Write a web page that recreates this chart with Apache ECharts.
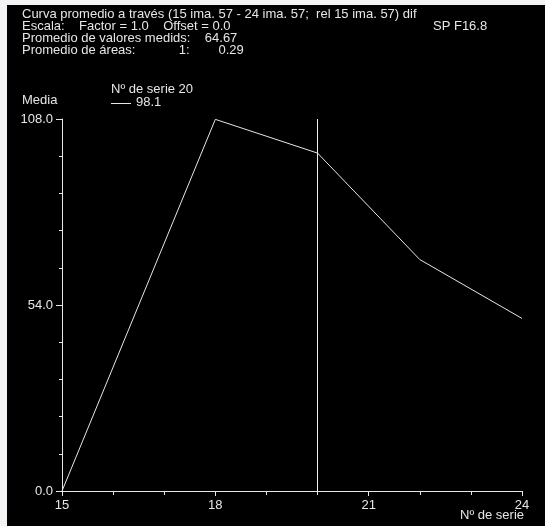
<!DOCTYPE html>
<html>
<head>
<meta charset="utf-8">
<script src="https://cdn.jsdelivr.net/npm/echarts@6/dist/echarts.min.js"></script>
<style>
  html, body { margin: 0; padding: 0; background: #f3f3f5; }
  #main { position: absolute; left: 7px; top: 5px; width: 538px; height: 521px; background: #000; }
</style>
</head>
<body>
<div id="main"></div>
<script>
// datos de la curva promedio
var serieNums = [15, 18, 20, 22, 24];
var mediaVals = [0, 107.9, 98.1, 67.2, 50.1];
var cursorSerie = 20;
var cursorValue = 98.1;
var headerLines = [
  'Curva promedio a través (15 ima. 57 - 24 ima. 57;  rel 15 ima. 57) dif',
  'Escala:    Factor = 1.0    Offset = 0.0',
  'Promedio de valores medids:    64.67',
  'Promedio de áreas:            1:        0.29'
];
var headerRight = 'SP F16.8';
var yTicks = [0, 54, 108];
var xTicks = [15, 18, 21, 24];

var txtColor = '#e6e6e6';
var fontFam = '"Liberation Sans", Arial, sans-serif';
var fnt = '13px ' + fontFam;
var chart = echarts.init(document.getElementById('main'));

var points = serieNums.map(function (s, i) { return [s, mediaVals[i]]; });

var graphics = headerLines.map(function (t, i) {
  return {
    type: 'text', left: 15, top: 2.5 + i * 12.3,
    style: { text: t, fill: txtColor, font: fnt }
  };
});
graphics.push({ type: 'text', left: 426, top: 14.5, style: { text: headerRight, fill: txtColor, font: fnt } });
graphics.push({ type: 'text', left: 15, top: 89, style: { text: 'Media', fill: txtColor, font: fnt } });
graphics.push({ type: 'text', left: 104, top: 78, style: { text: 'Nº de serie ' + cursorSerie, fill: txtColor, font: fnt } });
graphics.push({ type: 'line', shape: { x1: 104, y1: 98.5, x2: 124, y2: 98.5 }, style: { stroke: txtColor, lineWidth: 1 } });
graphics.push({ type: 'text', left: 129, top: 91, style: { text: cursorValue.toFixed(1), fill: txtColor, font: fnt } });
graphics.push({ type: 'text', left: 453, top: 504, style: { text: 'Nº de serie', fill: txtColor, font: fnt } });

option = {
  backgroundColor: '#000',
  animation: false,
  grid: { left: 55, right: 23, top: 114, bottom: 35 },
  xAxis: {
    type: 'value',
    min: xTicks[0], max: xTicks[xTicks.length - 1], interval: 3,
    axisLine: { lineStyle: { color: txtColor, width: 1 } },
    axisTick: { show: true, length: 5, lineStyle: { color: txtColor } },
    minorTick: { show: true, splitNumber: 3, length: 4, lineStyle: { color: txtColor } },
    axisLabel: { color: txtColor, fontSize: 13, fontFamily: fontFam, margin: 8 },
    splitLine: { show: false }
  },
  yAxis: {
    type: 'value',
    min: yTicks[0], max: yTicks[yTicks.length - 1], interval: 54,
    axisLine: { show: true, lineStyle: { color: txtColor, width: 1 } },
    axisTick: { show: true, length: 6, lineStyle: { color: txtColor } },
    minorTick: { show: true, splitNumber: 5, length: 3, lineStyle: { color: txtColor } },
    axisLabel: {
      color: txtColor, fontSize: 13, fontFamily: fontFam, margin: 9,
      formatter: function (v) { return v.toFixed(1); }
    },
    splitLine: { show: false }
  },
  graphic: graphics,
  series: [{
    type: 'line',
    data: points,
    symbol: 'none',
    lineStyle: { color: txtColor, width: 1 },
    markLine: {
      silent: true,
      symbol: 'none',
      label: { show: false },
      lineStyle: { color: '#f0f0f0', width: 1, type: 'solid' },
      data: [{ xAxis: cursorSerie }]
    }
  }]
};
chart.setOption(option);
</script>
</body>
</html>
